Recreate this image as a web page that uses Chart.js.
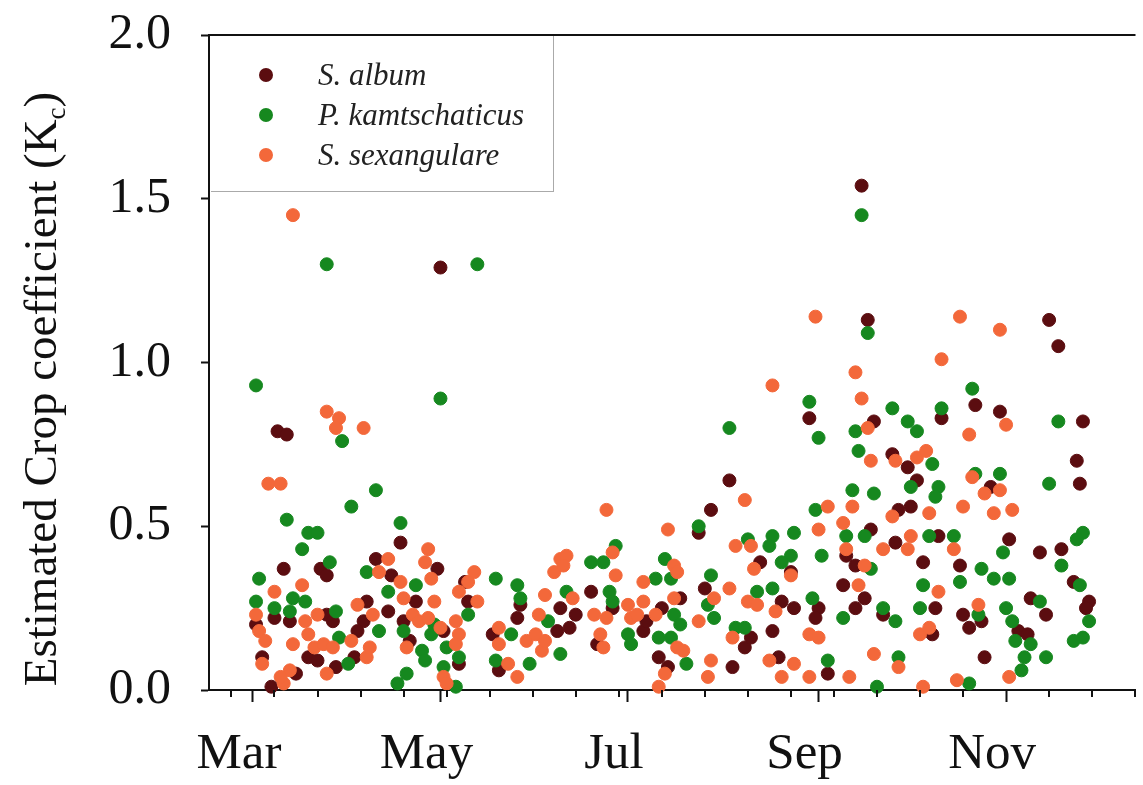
<!DOCTYPE html>
<html>
<head>
<meta charset="utf-8">
<script src="https://cdn.jsdelivr.net/npm/chart.js@4.4.1/dist/chart.umd.min.js"></script>
<style>
html,body{margin:0;padding:0;background:#fff;}
#wrap{position:relative;width:1143px;height:785px;overflow:hidden;background:#fff;}
#c{position:absolute;left:0;top:0;}
#ytitle{position:absolute;left:-310px;top:359px;width:700px;height:60px;line-height:60px;text-align:center;transform:rotate(-90deg);font-family:'Liberation Serif','Times New Roman',serif;font-size:47px;color:#111;white-space:nowrap;}
#ytitle sub{font-size:27px;vertical-align:baseline;position:relative;top:9px;}
#legend{position:absolute;left:211px;top:36px;width:342px;height:155px;border-right:1.5px solid #aaa;border-bottom:1.5px solid #aaa;}
.item{position:absolute;left:0;width:340px;height:40px;line-height:40px;font-family:'Liberation Serif','Times New Roman',serif;font-style:italic;font-size:31px;color:#222;}
.dot{position:absolute;width:14px;height:14px;border-radius:50%;left:48px;top:13px;}
.lab{position:absolute;left:107px;white-space:nowrap;}
</style>
</head>
<body>
<div id="wrap">
<canvas id="c" width="1143" height="785"></canvas>
<div id="ytitle">Estimated Crop coefficient (K<sub>c</sub>)</div>
<div id="legend">
  <div class="item" style="top:19px"><span class="dot" style="background:#5b0d10"></span><span class="lab">S. album</span></div>
  <div class="item" style="top:59px"><span class="dot" style="background:#16881f"></span><span class="lab">P. kamtschaticus</span></div>
  <div class="item" style="top:99px"><span class="dot" style="background:#f3683a"></span><span class="lab">S. sexangulare</span></div>
</div>
</div>
<script>
// ---- axis definitions (day of year) ----
const xMin = 45.7, xMax = 347.1;
const monthTicks = [60, 121, 182, 244, 305];
const monthLabels = ['Mar', 'May', 'Jul', 'Sep', 'Nov'];
const minorTicks = [53,67,81,95,109,123,137,151,165,179,193,207,221,235,249,263,277,291,319,333,347];
const yTickValues = [0, 0.5, 1.0, 1.5, 2.0];

const seriesNames = ['S. album', 'P. kamtschaticus', 'S. sexangulare'];
const seriesColors = ['#5b0d10', '#16881f', '#f3683a'];

// ---- S. album ----
const albumDay = [121,258,260,319,322,295,303,241,284,330,262,268,273,328,329,276,300,270,274,261,269,283,290,278,306,316,323,235,253,256,252,259,282,291,293,297,313,318,309,312,327,332,331,236,244,243,256,265,281,247,298,
215,209,205,225,207,232,147,160,165,159,163,146,170,177,187,188,193,199,220,222,229,216,231,192,195,172,
68,71,108,70,82,84,100,105,120,113,129,61,67,72,84,86,78,81,87,93,96,97,94,104,109,111,122,127,138,140,63,66,74,130];
const albumKc = [1.29,1.54,1.13,1.13,1.05,0.87,0.85,0.83,0.83,0.82,0.82,0.72,0.68,0.70,0.63,0.64,0.62,0.55,0.56,0.49,0.45,0.47,0.38,0.39,0.46,0.42,0.43,0.36,0.41,0.38,0.32,0.28,0.25,0.23,0.19,0.21,0.28,0.23,0.18,0.17,0.33,0.27,0.25,0.25,0.25,0.22,0.25,0.23,0.17,0.05,0.10,
0.64,0.55,0.48,0.39,0.31,0.27,0.26,0.25,0.23,0.18,0.19,0.22,0.30,0.25,0.18,0.21,0.25,0.28,0.13,0.16,0.18,0.07,0.10,0.10,0.07,0.14,
0.79,0.78,0.45,0.37,0.37,0.35,0.40,0.35,0.37,0.27,0.33,0.20,0.22,0.21,0.23,0.21,0.10,0.09,0.07,0.10,0.21,0.27,0.18,0.24,0.21,0.15,0.18,0.08,0.17,0.06,0.10,0.01,0.05,0.27];

// ---- P. kamtschaticus ----
const kamDay = [84,133,121,61,258,260,241,268,284,294,244,273,276,322,256,257,281,319,274,283,282,255,262,295,303,243,236,253,259,280,288,290,304,323,330,328,235,245,261,297,301,306,278,277,296,305,307,316,308,313,311,310,318,329,332,330,327,242,252,265,269,270,247,263,293,
215,205,221,229,228,232,178,170,174,194,191,196,209,208,224,229,146,147,162,156,176,177,197,199,192,196,182,183,210,217,220,201,144,150,160,
89,100,92,71,78,81,76,108,85,97,104,113,130,139,62,61,67,73,77,72,87,88,91,101,109,115,116,110,107,119,118,123,127,122,126,139];
const kamKc = [1.30,1.30,0.89,0.93,1.45,1.09,0.88,0.86,0.86,0.92,0.77,0.82,0.79,0.82,0.79,0.73,0.69,0.63,0.62,0.62,0.59,0.61,0.60,0.66,0.66,0.55,0.48,0.47,0.47,0.47,0.47,0.33,0.42,0.38,0.48,0.46,0.41,0.41,0.37,0.37,0.34,0.34,0.32,0.25,0.23,0.25,0.21,0.27,0.15,0.14,0.10,0.06,0.10,0.32,0.21,0.16,0.15,0.28,0.22,0.25,0.21,0.10,0.09,0.01,0.02,
0.80,0.50,0.46,0.47,0.44,0.39,0.44,0.39,0.39,0.40,0.34,0.34,0.35,0.26,0.30,0.31,0.32,0.28,0.30,0.21,0.30,0.27,0.23,0.20,0.16,0.16,0.17,0.14,0.22,0.19,0.19,0.08,0.17,0.08,0.11,
0.76,0.61,0.56,0.52,0.48,0.48,0.43,0.51,0.39,0.36,0.30,0.32,0.23,0.34,0.34,0.27,0.25,0.28,0.27,0.24,0.24,0.16,0.08,0.18,0.18,0.12,0.09,0.05,0.02,0.20,0.17,0.13,0.10,0.07,0.01,0.09];

// ---- S. sexangulare ----
const sexDay = [73,243,290,303,284,256,229,258,305,293,260,261,269,276,279,294,303,298,247,255,268,280,291,301,307,244,252,274,265,273,288,235,253,259,257,283,296,241,244,262,270,277,280,236,241,254,278,306,289,
220,175,195,217,222,223,177,160,162,158,161,197,198,178,187,215,210,221,224,230,155,164,153,171,175,182,187,183,185,191,197,173,174,205,216,209,208,228,232,194,192,198,200,140,143,146,149,154,152,155,
84,88,87,96,65,69,104,101,108,109,117,116,118,119,132,130,127,133,61,62,64,67,76,77,78,81,73,80,83,86,84,92,97,98,94,99,110,112,114,117,121,126,127,126,122,123,140,63,70,72,69];
const sexKc = [1.45,1.14,1.14,1.10,1.01,0.97,0.93,0.89,0.81,0.78,0.80,0.70,0.70,0.71,0.73,0.65,0.61,0.60,0.56,0.56,0.53,0.54,0.56,0.54,0.55,0.49,0.51,0.47,0.43,0.43,0.43,0.35,0.43,0.38,0.32,0.30,0.26,0.17,0.16,0.11,0.07,0.17,0.19,0.08,0.04,0.04,0.01,0.04,0.03,
0.58,0.55,0.49,0.44,0.44,0.37,0.42,0.40,0.41,0.36,0.38,0.38,0.36,0.35,0.33,0.31,0.28,0.27,0.26,0.24,0.29,0.28,0.23,0.23,0.22,0.26,0.27,0.22,0.23,0.23,0.28,0.17,0.13,0.21,0.16,0.09,0.04,0.09,0.04,0.05,0.01,0.13,0.12,0.19,0.08,0.04,0.15,0.12,0.17,0.15,
0.85,0.83,0.80,0.80,0.63,0.63,0.40,0.36,0.33,0.28,0.43,0.39,0.34,0.27,0.36,0.33,0.30,0.27,0.23,0.18,0.15,0.30,0.32,0.21,0.17,0.23,0.14,0.13,0.14,0.13,0.05,0.15,0.10,0.13,0.26,0.23,0.13,0.23,0.21,0.22,0.19,0.21,0.17,0.14,0.04,0.02,0.14,0.08,0.02,0.06,0.04];

function pts(days, vals) { return days.map((d, i) => ({ x: d, y: vals[i] })); }

const frameAndMinor = {
  id: 'frameAndMinor',
  afterDraw(chart) {
    const { ctx, chartArea: a } = chart;
    const xs = chart.scales.x;
    ctx.save();
    ctx.strokeStyle = '#111';
    ctx.lineWidth = 2;
    ctx.beginPath();
    ctx.moveTo(a.left - 1, a.top);
    ctx.lineTo(a.right, a.top);
    ctx.stroke();
    ctx.beginPath();
    minorTicks.forEach(v => {
      const px = Math.round(xs.getPixelForValue(v));
      ctx.moveTo(px, a.bottom);
      ctx.lineTo(px, a.bottom + 7);
    });
    ctx.stroke();
    ctx.restore();
  }
};

const allXTicks = monthTicks.slice().sort((p, q) => p - q);

new Chart(document.getElementById('c'), {
  type: 'scatter',
  data: {
    datasets: [
      { label: seriesNames[0], data: pts(albumDay, albumKc), backgroundColor: seriesColors[0], borderColor: seriesColors[0], order: 3 },
      { label: seriesNames[1], data: pts(kamDay, kamKc), backgroundColor: seriesColors[1], borderColor: seriesColors[1], order: 2 },
      { label: seriesNames[2], data: pts(sexDay, sexKc), backgroundColor: seriesColors[2], borderColor: seriesColors[2], order: 1 }
    ]
  },
  options: {
    responsive: false,
    animation: false,
    events: [],
    layout: { padding: { top: 35, right: 0, left: 0, bottom: 0 } },
    elements: { point: { radius: 6.5, borderWidth: 1, hoverRadius: 6.5 } },
    datasets: { scatter: { clip: false } },
    plugins: { legend: { display: false }, tooltip: { enabled: false } },
    scales: {
      x: {
        type: 'linear',
        min: xMin,
        max: xMax,
        afterBuildTicks: s => { s.ticks = allXTicks.map(v => ({ value: v, major: true })); },
        afterFit: s => { s.height = 95; s.paddingLeft = 0; s.paddingRight = 0; },
        ticks: {
          autoSkip: false, maxRotation: 0, minRotation: 0,
          labelOffset: -14, padding: 22,
          color: '#111',
          font: { family: "'Liberation Serif', 'Times New Roman', serif", size: 51 },
          callback: v => { const i = monthTicks.indexOf(v); return i >= 0 ? monthLabels[i] : ''; }
        },
        grid: { drawOnChartArea: false, drawTicks: true, tickLength: 12, tickWidth: 2, tickColor: '#111' },
        border: { display: true, color: '#111', width: 2 }
      },
      y: {
        min: 0,
        max: 2,
        afterBuildTicks: s => { s.ticks = yTickValues.map(v => ({ value: v })); },
        afterFit: s => { s.width = 209; s.paddingTop = 0; s.paddingBottom = 0; },
        ticks: {
          padding: 30,
          color: '#111',
          font: { family: "'Liberation Serif', 'Times New Roman', serif", size: 50 },
          callback: v => Number(v).toFixed(1)
        },
        grid: { drawOnChartArea: false, drawTicks: true, tickLength: 8, tickWidth: 2, tickColor: '#111' },
        border: { display: true, color: '#111', width: 2 }
      }
    }
  },
  plugins: [frameAndMinor]
});
</script>
</body>
</html>
